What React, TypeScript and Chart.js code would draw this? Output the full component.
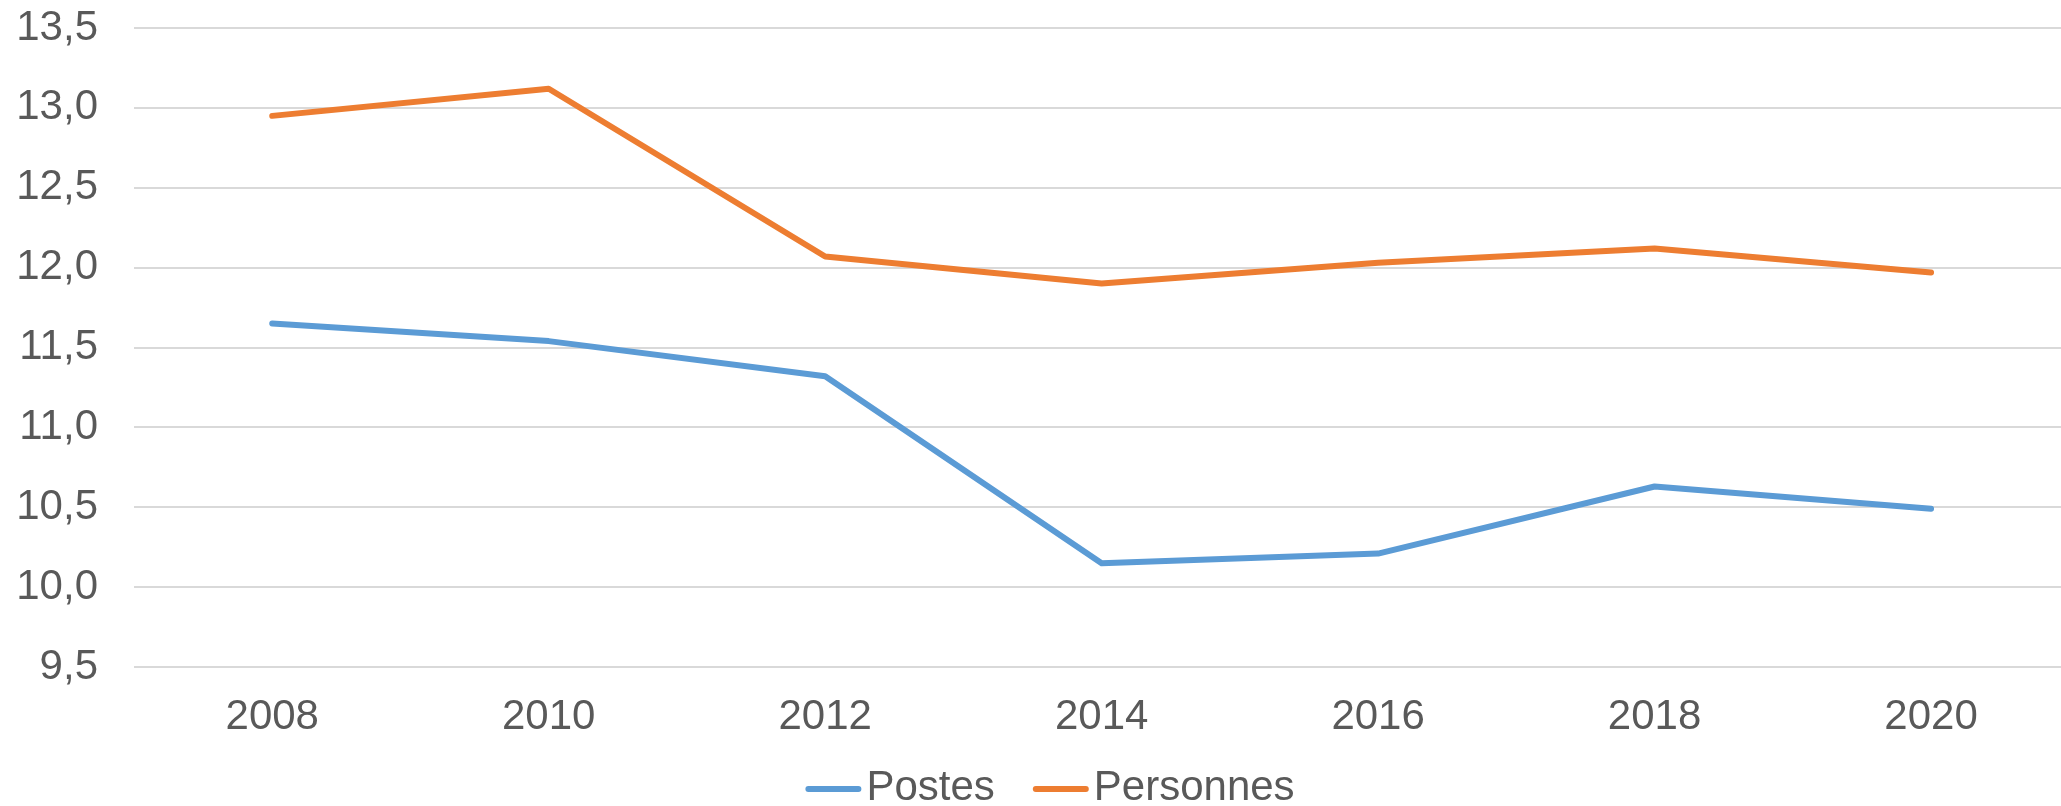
import React, { useEffect, useRef } from "react";
import { Chart, registerables } from "chart.js";

Chart.register(...registerables);

const years = [2008, 2010, 2012, 2014, 2016, 2018, 2020];
const postes = [11.65, 11.54, 11.32, 10.15, 10.21, 10.63, 10.49];
const personnes = [12.95, 13.12, 12.07, 11.9, 12.03, 12.12, 11.97];
const seriesLabels = ["Postes", "Personnes"];
const seriesColors = ["#5B9BD5", "#ED7D31"];

const FONT = '"Liberation Sans", Arial, sans-serif';
const TEXT_COLOR = "#595959";

const legendPlugin = {
  id: "customLegend",
  afterDraw(chart: any) {
    const ctx = chart.ctx;
    ctx.save();
    ctx.font = `42px ${FONT}`;
    const lineLen = 56;
    const gap = 5;
    const itemGap = 38;
    const items = chart.data.datasets.map((d: any) => ({
      label: d.label,
      color: d.borderColor,
      w: ctx.measureText(d.label).width,
    }));
    const total =
      items.reduce((s: number, it: any) => s + lineLen + gap + it.w, 0) +
      itemGap * (items.length - 1);
    let x = 1050 - total / 2;
    const yLine = 789;
    items.forEach((it: any) => {
      ctx.strokeStyle = it.color;
      ctx.lineWidth = 6;
      ctx.lineCap = "round";
      ctx.beginPath();
      ctx.moveTo(x + 3, yLine);
      ctx.lineTo(x + lineLen - 3, yLine);
      ctx.stroke();
      ctx.fillStyle = TEXT_COLOR;
      ctx.textBaseline = "middle";
      ctx.textAlign = "left";
      ctx.fillText(it.label, x + lineLen + gap, yLine - 1);
      x += lineLen + gap + it.w + itemGap;
    });
    ctx.restore();
  },
};

export default function App() {
  const canvasRef = useRef<HTMLCanvasElement | null>(null);

  useEffect(() => {
    document.body.style.margin = "0";
    document.body.style.overflow = "hidden";
    const canvas = canvasRef.current;
    if (!canvas) return;
    const chart = new Chart(canvas, {
      type: "line",
      data: {
        datasets: [
          {
            label: seriesLabels[0],
            data: years.map((y, i) => ({ x: y, y: postes[i] })),
            borderColor: seriesColors[0],
            backgroundColor: seriesColors[0],
            borderWidth: 6,
            borderCapStyle: "round",
            borderJoinStyle: "round",
            pointRadius: 0,
            tension: 0,
          },
          {
            label: seriesLabels[1],
            data: years.map((y, i) => ({ x: y, y: personnes[i] })),
            borderColor: seriesColors[1],
            backgroundColor: seriesColors[1],
            borderWidth: 6,
            borderCapStyle: "round",
            borderJoinStyle: "round",
            pointRadius: 0,
            tension: 0,
          },
        ],
      },
      options: {
        responsive: false,
        animation: false,
        devicePixelRatio: 1,
        layout: { padding: { top: 28, left: 0, right: 0, bottom: 64 } },
        plugins: {
          legend: { display: false },
          tooltip: { enabled: false },
        },
        scales: {
          x: {
            type: "linear",
            min: 2007,
            max: 2020.94,
            grid: { display: false, drawTicks: false },
            border: { display: false },
            afterBuildTicks: (scale: any) => {
              scale.ticks = years.map((v) => ({ value: v }));
            },
            afterFit: (scale: any) => {
              scale.height = 75;
              scale.paddingLeft = 0;
              scale.paddingRight = 0;
            },
            ticks: {
              padding: 25,
              color: TEXT_COLOR,
              font: { family: FONT, size: 42 },
              maxRotation: 0,
              autoSkip: false,
              callback: (v: any) => String(v),
            },
          },
          y: {
            min: 9.5,
            max: 13.5,
            grid: { color: "#d9d9d9", lineWidth: 2, drawTicks: false },
            border: { display: false },
            afterFit: (scale: any) => {
              scale.width = 134;
              scale.paddingTop = 0;
              scale.paddingBottom = 0;
            },
            ticks: {
              stepSize: 0.5,
              padding: 36,
              color: TEXT_COLOR,
              font: { family: FONT, size: 42 },
              callback: (v: any) => Number(v).toFixed(1).replace(".", ","),
            },
          },
        },
      },
      plugins: [legendPlugin],
    } as any);
    return () => chart.destroy();
  }, []);

  return (
    <div style={{ width: 2061, height: 806 }}>
      <canvas ref={canvasRef} width={2061} height={806} />
    </div>
  );
}
